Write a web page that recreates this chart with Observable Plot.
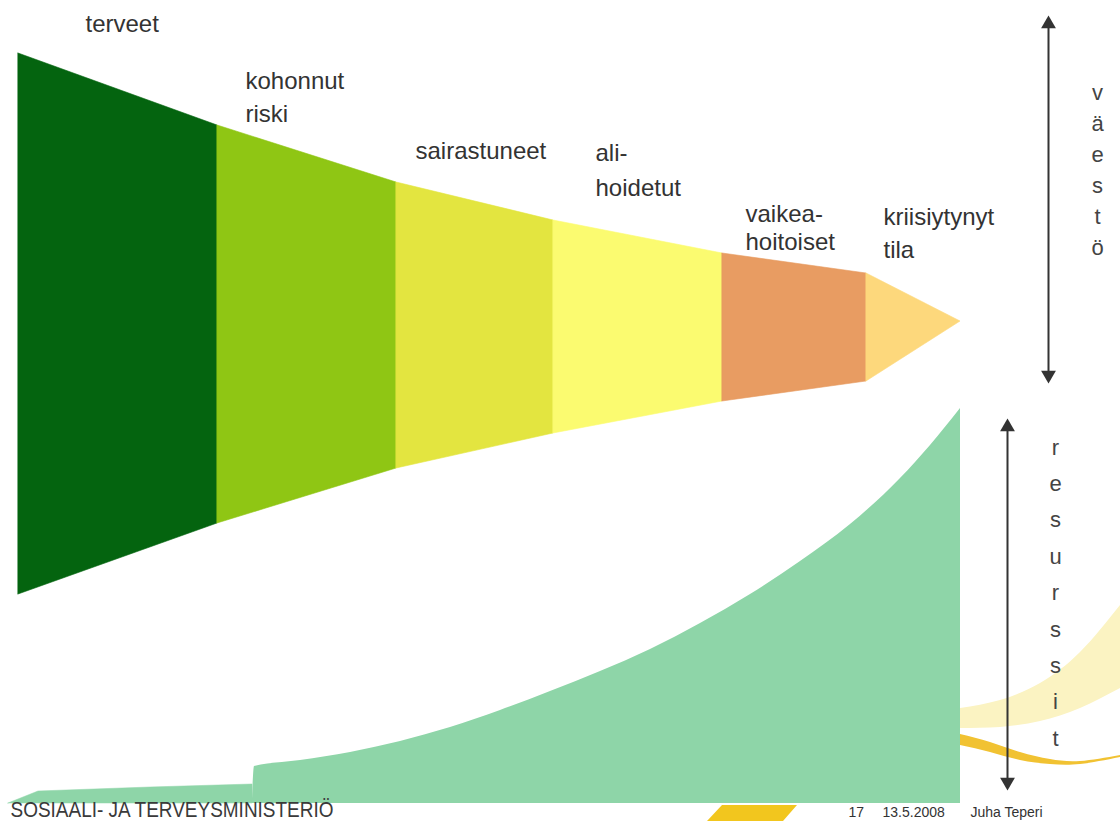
<!DOCTYPE html>
<html>
<head>
<meta charset="utf-8">
<script src="https://cdn.jsdelivr.net/npm/d3@7"></script>
<script src="https://cdn.jsdelivr.net/npm/@observablehq/plot@0.6"></script>
<style>
  html, body { margin: 0; padding: 0; background: #ffffff; }
  #chart { width: 1120px; height: 821px; overflow: hidden; }
</style>
</head>
<body>
<div id="chart"></div>
<script>
// ---- Funnel (väestö) ----
const stages = ["terveet", "kohonnut riski", "sairastuneet", "ali-hoidetut", "vaikea-hoitoiset", "kriisiytynyt tila"];
const stageColors = ["#04640f", "#8fc614", "#e3e540", "#fbfb70", "#e89c62", "#fdd87c"];
const boundaryX = [18, 217, 396, 553, 722, 866, 960];
const boundaryTop = [53, 125, 182, 220, 253, 273, 321];
const boundaryBottom = [594, 523, 468, 433, 401, 381, 321];

// ---- Stage labels ----
const labelLines = ["terveet", "kohonnut", "riski", "sairastuneet", "ali-", "hoidetut", "vaikea-", "hoitoiset", "kriisiytynyt", "tila"];
const labelX = [85, 245, 245, 415, 595, 595, 745, 745, 883, 883];
const labelBaseline = [31, 88, 121, 158, 160, 195, 221, 249, 224, 257];

// ---- Resources (resurssit) curve ----
const resourceFlatX = [8, 38, 150, 252];
const resourceFlatTop = [803, 791, 787, 784];
const resourceCurveX = [252, 254, 300, 350, 400, 450, 500, 550, 600, 650, 700, 750, 800, 850, 900, 930, 960];
const resourceCurveTop = [803, 766, 760, 752, 741, 727, 710, 691, 671, 649, 623, 594, 561, 524, 478, 445, 408];
const resourceBase = 803;

// ---- Axis arrows and vertical words ----
const arrowNames = ["väestö", "resurssit"];
const arrowX = [1048, 1007];
const arrowTip1 = [15, 418];
const arrowTip2 = [383, 790];
const wordX = [1097, 1055];
const wordFirstY = [92, 447];
const wordStep = [31, 36.4];

// ---- Decorative template swooshes ----
const swooshX = [960, 1000, 1040, 1080, 1120];
const paleUpper = [708, 700, 683, 652, 605];
const paleLower = [728, 727, 721, 708, 688];
const goldX = [960, 990, 1020, 1050, 1080, 1120];
const goldUpper = [734, 742, 752, 759, 761, 755];
const goldLower = [745, 752, 760, 764, 764, 757];
const barX = [707, 722, 783, 797];
const barTop = [821, 805, 805, 805];
const barBottom = [821, 821, 821, 805];

// ---- Footer ----
const footerLeft = "SOSIAALI- JA TERVEYSMINISTERIÖ";
const footerRight = ["17", "13.5.2008", "Juha Teperi"];
const footerRightX = [848, 882, 970];

// Build tables
const funnelRows = stages.flatMap((s, i) => [
  {stage: s, x: boundaryX[i], top: boundaryTop[i], bottom: boundaryBottom[i]},
  {stage: s, x: boundaryX[i + 1], top: boundaryTop[i + 1], bottom: boundaryBottom[i + 1]}
]);
const labels = labelLines.map((t, i) => ({t, x: labelX[i], y: labelBaseline[i]}));
const resourceFlat = resourceFlatX.map((x, i) => ({x, top: resourceFlatTop[i], base: resourceBase}));
const resourceCurve = resourceCurveX.map((x, i) => ({x, top: resourceCurveTop[i], base: resourceBase}));
const letters = arrowNames.flatMap((w, k) => Array.from(w).map((c, j) => ({c, x: wordX[k], y: wordFirstY[k] + j * wordStep[k]})));
const arrows = arrowNames.map((n, i) => ({n, x: arrowX[i], a: arrowTip1[i], b: arrowTip2[i]}));
const headOffset = 8.5;
const heads = arrows.flatMap(d => [
  {x: d.x, y: d.a + headOffset, rot: 0},
  {x: d.x, y: d.b - headOffset, rot: 180}
]);
const pale = swooshX.map((x, i) => ({x, u: paleUpper[i], l: paleLower[i]}));
const gold = goldX.map((x, i) => ({x, u: goldUpper[i], l: goldLower[i]}));
const bar = barX.map((x, i) => ({x, u: barTop[i], l: barBottom[i]}));
const footR = footerRight.map((t, i) => ({t, x: footerRightX[i]}));

const chart = Plot.plot({
  width: 1120,
  height: 821,
  margin: 0,
  style: {background: "#ffffff", overflow: "hidden"},
  x: {domain: [0, 1120], axis: null},
  y: {domain: [0, 821], reverse: true, axis: null},
  color: {domain: stages, range: stageColors},
  marks: [
    // template decorations
    Plot.areaY(pale, {x: "x", y1: "u", y2: "l", fill: "#fbf3c2", curve: "natural"}),
    Plot.areaY(gold, {x: "x", y1: "u", y2: "l", fill: "#f1c232", curve: "natural"}),
    Plot.areaY(bar, {x: "x", y1: "u", y2: "l", fill: "#f2c61e"}),
    // resources
    Plot.areaY(resourceFlat, {x: "x", y1: "base", y2: "top", fill: "#8ed5a8", stroke: "#8ed5a8", strokeWidth: 0.5}),
    Plot.areaY(resourceCurve, {x: "x", y1: "base", y2: "top", fill: "#8ed5a8", curve: "monotone-x"}),
    // footer text
    Plot.text([footerLeft], {x: 10, y: 816, text: d => d, textAnchor: "start", lineAnchor: "bottom",
      fontSize: 22, fill: "#3a3a3a", fontFamily: "Liberation Sans, Arial, sans-serif", className: "ministry"}),
    Plot.text(footR, {x: "x", y: 816, text: "t", textAnchor: "start", lineAnchor: "bottom",
      fontSize: 14, fill: "#333", fontFamily: "Liberation Sans Narrow, Liberation Sans, Arial, sans-serif"}),
    // population funnel
    Plot.areaY(funnelRows, {x: "x", y1: "top", y2: "bottom", z: "stage", fill: "stage", stroke: "stage", strokeWidth: 0.6}),
    // labels
    Plot.text(labels, {x: "x", y: "y", text: "t", textAnchor: "start", lineAnchor: "bottom",
      fontSize: 24, fill: "#333", fontFamily: "Liberation Sans, Arial, sans-serif"}),
    // arrows
    Plot.ruleX(arrows, {x: "x", y1: d => d.a + 10, y2: d => d.b - 10, stroke: "#333", strokeWidth: 2}),
    Plot.dot(heads, {x: "x", y: "y", symbol: "triangle", r: 5.5, rotate: "rot", fill: "#333", stroke: "none"}),
    // vertical words
    Plot.text(letters, {x: "x", y: "y", text: "c", lineAnchor: "middle", fontSize: 22, fill: "#444",
      fontFamily: "Liberation Sans, Arial, sans-serif"})
  ]
});

d3.select(chart).selectAll(".ministry text")
  .attr("textLength", 323).attr("lengthAdjust", "spacingAndGlyphs");

document.getElementById("chart").append(chart);
</script>
</body>
</html>
